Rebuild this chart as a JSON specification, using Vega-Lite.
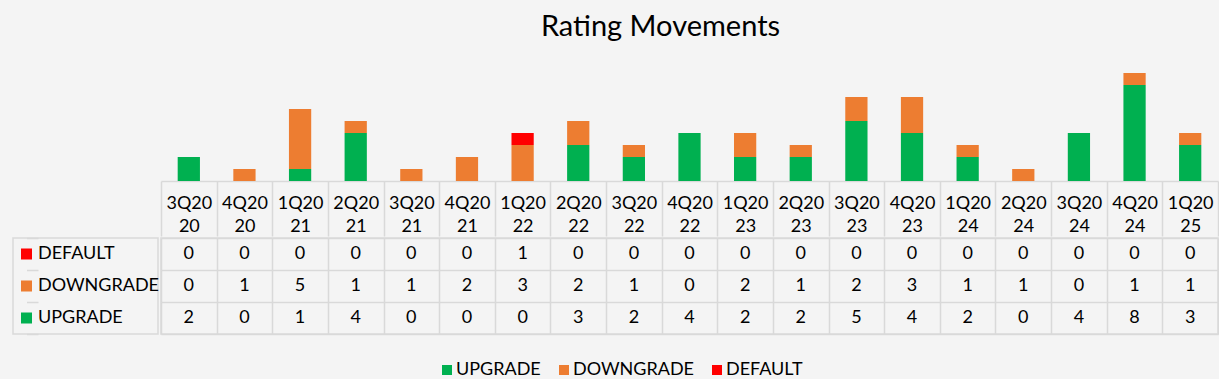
{
  "$schema": "https://vega.github.io/schema/vega-lite/v6.json",
  "background": "#f4f4f4",
  "padding": {"left": 12, "top": 13, "right": 0, "bottom": 0},
  "title": {"text": "Rating Movements", "fontSize": 29, "fontWeight": "normal", "font": "Lato", "color": "#000000", "anchor": "middle", "dx": 45, "offset": 7},
  "data": {"values": [
    {"q": "3Q2020", "series": "UPGRADE", "n": 2}, {"q": "3Q2020", "series": "DOWNGRADE", "n": 0}, {"q": "3Q2020", "series": "DEFAULT", "n": 0},
    {"q": "4Q2020", "series": "UPGRADE", "n": 0}, {"q": "4Q2020", "series": "DOWNGRADE", "n": 1}, {"q": "4Q2020", "series": "DEFAULT", "n": 0},
    {"q": "1Q2021", "series": "UPGRADE", "n": 1}, {"q": "1Q2021", "series": "DOWNGRADE", "n": 5}, {"q": "1Q2021", "series": "DEFAULT", "n": 0},
    {"q": "2Q2021", "series": "UPGRADE", "n": 4}, {"q": "2Q2021", "series": "DOWNGRADE", "n": 1}, {"q": "2Q2021", "series": "DEFAULT", "n": 0},
    {"q": "3Q2021", "series": "UPGRADE", "n": 0}, {"q": "3Q2021", "series": "DOWNGRADE", "n": 1}, {"q": "3Q2021", "series": "DEFAULT", "n": 0},
    {"q": "4Q2021", "series": "UPGRADE", "n": 0}, {"q": "4Q2021", "series": "DOWNGRADE", "n": 2}, {"q": "4Q2021", "series": "DEFAULT", "n": 0},
    {"q": "1Q2022", "series": "UPGRADE", "n": 0}, {"q": "1Q2022", "series": "DOWNGRADE", "n": 3}, {"q": "1Q2022", "series": "DEFAULT", "n": 1},
    {"q": "2Q2022", "series": "UPGRADE", "n": 3}, {"q": "2Q2022", "series": "DOWNGRADE", "n": 2}, {"q": "2Q2022", "series": "DEFAULT", "n": 0},
    {"q": "3Q2022", "series": "UPGRADE", "n": 2}, {"q": "3Q2022", "series": "DOWNGRADE", "n": 1}, {"q": "3Q2022", "series": "DEFAULT", "n": 0},
    {"q": "4Q2022", "series": "UPGRADE", "n": 4}, {"q": "4Q2022", "series": "DOWNGRADE", "n": 0}, {"q": "4Q2022", "series": "DEFAULT", "n": 0},
    {"q": "1Q2023", "series": "UPGRADE", "n": 2}, {"q": "1Q2023", "series": "DOWNGRADE", "n": 2}, {"q": "1Q2023", "series": "DEFAULT", "n": 0},
    {"q": "2Q2023", "series": "UPGRADE", "n": 2}, {"q": "2Q2023", "series": "DOWNGRADE", "n": 1}, {"q": "2Q2023", "series": "DEFAULT", "n": 0},
    {"q": "3Q2023", "series": "UPGRADE", "n": 5}, {"q": "3Q2023", "series": "DOWNGRADE", "n": 2}, {"q": "3Q2023", "series": "DEFAULT", "n": 0},
    {"q": "4Q2023", "series": "UPGRADE", "n": 4}, {"q": "4Q2023", "series": "DOWNGRADE", "n": 3}, {"q": "4Q2023", "series": "DEFAULT", "n": 0},
    {"q": "1Q2024", "series": "UPGRADE", "n": 2}, {"q": "1Q2024", "series": "DOWNGRADE", "n": 1}, {"q": "1Q2024", "series": "DEFAULT", "n": 0},
    {"q": "2Q2024", "series": "UPGRADE", "n": 0}, {"q": "2Q2024", "series": "DOWNGRADE", "n": 1}, {"q": "2Q2024", "series": "DEFAULT", "n": 0},
    {"q": "3Q2024", "series": "UPGRADE", "n": 4}, {"q": "3Q2024", "series": "DOWNGRADE", "n": 0}, {"q": "3Q2024", "series": "DEFAULT", "n": 0},
    {"q": "4Q2024", "series": "UPGRADE", "n": 8}, {"q": "4Q2024", "series": "DOWNGRADE", "n": 1}, {"q": "4Q2024", "series": "DEFAULT", "n": 0},
    {"q": "1Q2025", "series": "UPGRADE", "n": 3}, {"q": "1Q2025", "series": "DOWNGRADE", "n": 1}, {"q": "1Q2025", "series": "DEFAULT", "n": 0}
  ]},
  "columns": 2,
  "spacing": 0,
  "concat": [
    {
      "data": {"values": []},
      "width": 145,
      "height": 132,
      "view": {"stroke": null},
      "mark": "point",
      "encoding": {}
    },
    {
      "width": 1057,
      "height": 132,
      "view": {"stroke": null},
      "mark": {"type": "bar", "width": {"band": 0.4}},
      "encoding": {
        "x": {
          "field": "q", "type": "nominal", "sort": null,
          "scale": {"paddingInner": 0, "paddingOuter": 0},
          "axis": {
            "orient": "bottom", "title": null, "labelAngle": 0,
            "labelExpr": "[slice(datum.label, 0, 4), slice(datum.label, 4)]",
            "labelFontSize": 18, "labelFont": "Lato", "labelColor": "#000000",
            "labelLineHeight": 23, "labelPadding": -32.5, "labelBaseline": "middle",
            "labelOverlap": false, "labelFlush": false, "labelBound": false,
            "tickBand": "extent", "tickSize": 55, "tickColor": "#d9d9d9", "tickWidth": 1.5,
            "domainColor": "#d9d9d9", "domainWidth": 1.5, "grid": false,
            "minExtent": 55, "maxExtent": 55
          }
        },
        "y": {"field": "n", "type": "quantitative", "stack": "zero", "scale": {"domain": [0, 11]}, "axis": null},
        "color": {
          "field": "series", "type": "nominal",
          "scale": {"domain": ["UPGRADE", "DOWNGRADE", "DEFAULT"], "range": ["#00b050", "#ed7d31", "#ff0000"]},
          "legend": {
            "orient": "none", "legendX": 425, "legendY": 312, "direction": "horizontal", "title": null,
            "symbolType": "square", "symbolSize": 100, "symbolStrokeWidth": 0,
            "labelFontSize": 18, "labelFont": "Lato", "labelColor": "#000000",
            "columnPadding": 14, "labelOffset": 0
          }
        },
        "order": {"field": "series", "sort": "descending"}
      }
    },
    {
      "width": 145,
      "height": 96,
      "view": {"stroke": "#d9d9d9", "strokeWidth": 1.5},
      "transform": [{"filter": "datum.q == '3Q2020'"}],
      "encoding": {
        "y": {
          "field": "series", "type": "nominal",
          "scale": {"domain": ["DEFAULT", "DOWNGRADE", "UPGRADE"], "paddingInner": 0, "paddingOuter": 0},
          "axis": {"title": null, "labels": false, "ticks": false, "domain": false, "grid": true, "tickBand": "extent", "gridColor": "#d9d9d9", "gridWidth": 1.5, "minExtent": 0, "maxExtent": 0}
        }
      },
      "layer": [
        {
          "mark": {"type": "point", "shape": "square", "filled": true, "size": 121, "opacity": 1},
          "encoding": {
            "x": {"datum": "sw", "type": "ordinal", "scale": {"type": "point", "domain": ["sw", "lb"], "range": [13.5, 25], "padding": 0}, "axis": null},
            "color": {
              "field": "series", "type": "nominal",
              "scale": {"domain": ["UPGRADE", "DOWNGRADE", "DEFAULT"], "range": ["#00b050", "#ed7d31", "#ff0000"]},
              "legend": {
                "orient": "none", "legendX": 425, "legendY": 312, "direction": "horizontal", "title": null,
                "symbolType": "square", "symbolSize": 100, "symbolStrokeWidth": 0,
                "labelFontSize": 18, "labelFont": "Lato", "labelColor": "#000000",
                "columnPadding": 14, "labelOffset": 0
              }
            }
          }
        },
        {
          "mark": {"type": "text", "align": "left", "baseline": "middle", "fontSize": 18, "font": "Lato", "color": "#000000"},
          "encoding": {
            "x": {"datum": "lb", "type": "ordinal"},
            "text": {"field": "series", "type": "nominal"}
          }
        }
      ]
    },
    {
      "width": 1057,
      "height": 96,
      "view": {"stroke": "#d9d9d9", "strokeWidth": 1.5},
      "mark": {"type": "text", "fontSize": 18, "font": "Lato", "color": "#000000", "baseline": "middle"},
      "encoding": {
        "x": {
          "field": "q", "type": "nominal", "sort": null,
          "scale": {"paddingInner": 0, "paddingOuter": 0},
          "axis": {"orient": "bottom", "title": null, "labels": false, "ticks": false, "domain": false, "grid": true, "tickBand": "extent", "gridColor": "#d9d9d9", "gridWidth": 1.5, "minExtent": 0, "maxExtent": 0}
        },
        "y": {
          "field": "series", "type": "nominal",
          "scale": {"domain": ["DEFAULT", "DOWNGRADE", "UPGRADE"], "paddingInner": 0, "paddingOuter": 0},
          "axis": {"title": null, "labels": false, "ticks": false, "domain": false, "grid": true, "tickBand": "extent", "gridColor": "#d9d9d9", "gridWidth": 1.5, "minExtent": 0, "maxExtent": 0}
        },
        "text": {"field": "n", "type": "quantitative"}
      }
    }
  ],
  "resolve": {"scale": {"color": "shared"}, "legend": {"color": "shared"}},
  "config": {"font": "Lato"}
}
